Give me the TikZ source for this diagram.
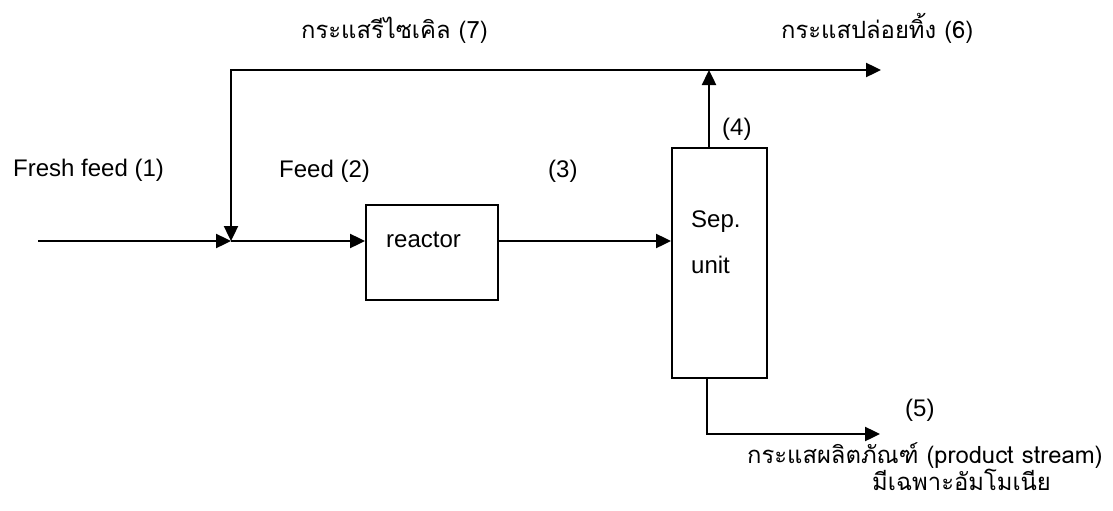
\documentclass[tikz,border=0pt]{standalone}
\usepackage{fontspec}
\setmainfont{Liberation Sans}
\newfontfamily\thaifont[Script=Thai]{Loma}
\usetikzlibrary{arrows.meta}
\tikzset{
  flow/.style={line width=2.4pt, -{Triangle[length=15pt,width=14pt]}},
  unitbox/.style={draw, line width=2.4pt, anchor=north west, inner sep=0pt},
  lbl/.style={anchor=base west, inner sep=0pt, font=\fontsize{24}{28}\selectfont},
  tlbl/.style={anchor=base west, inner sep=0pt, font=\fontsize{23.8}{28}\selectfont\thaifont},
}
\begin{document}
\begin{tikzpicture}[x=1pt,y=-1pt]
\useasboundingbox (0,0) rectangle (1113,511);
% units
\node[unitbox, minimum width=132pt, minimum height=95pt] (reactor) at (365,204) {};
\node[unitbox, minimum width=95pt, minimum height=230pt] (sep) at (671,147) {};
% coordinates
\coordinate (s) at (38,241);
\coordinate (j) at (231,241);
\coordinate (rc) at (231,70);
\coordinate (sp) at (709,70);
\coordinate (pe) at (881,70);
\coordinate (pc) at (707,434);
\coordinate (pend) at (880,434);
% connectors
\draw[flow] (s) -- (j);
\draw[flow] (sp) -- (rc) -- (j);
\draw[flow] (sp) -- (pe);
\draw[flow] (j) -- (j -| reactor.west);
\draw[flow] (reactor.east |- j) -- (j -| sep.west);
\draw[flow] (sp |- sep.north) -- (sp);
\draw[flow] (pc |- sep.south) -- (pc) -- (pend);
% labels
\node[lbl] (tfresh) at (13,176) {Fresh feed (1)};
\node[lbl] (tfeed) at (279,177) {Feed (2)};
\node[lbl] (t3) at (548,177) {(3)};
\node[lbl] (t4) at (722,135) {(4)};
\node[lbl] (treactor) at (386,247) {reactor};
\node[lbl] (tsep) at (691,227) {Sep.};
\node[lbl] (tunit) at (691,273) {unit};
\node[lbl] (t5) at (905,416) {(5)};
\node[tlbl] (t7) at (301,38) {กระแสรีไซเคิล (7)};
\node[tlbl] (t6) at (781,38) {กระแสปล่อยทิ้ง (6)};
\node[tlbl] (tprod) at (747,463) {กระแสผลิตภัณฑ์ (product stream)};
\node[tlbl] (tamm) at (872,490) {มีเฉพาะอัมโมเนีย};
\end{tikzpicture}
\end{document}
